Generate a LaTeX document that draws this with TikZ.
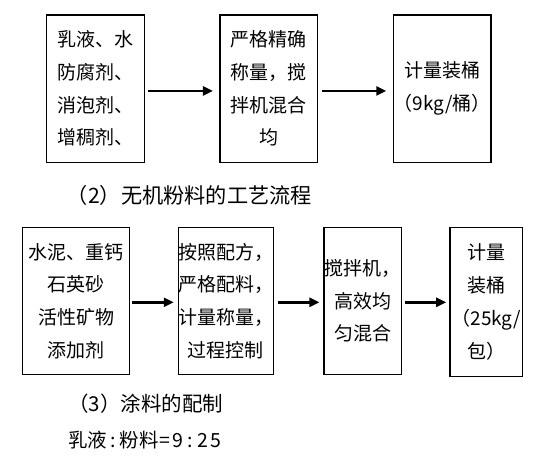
\documentclass[tikz,border=0pt]{standalone}
\usepackage{fontspec}
\setmainfont{Noto Sans CJK SC}
\usetikzlibrary{arrows.meta}
\newcommand\hwc[1]{\makebox[12.7pt]{#1}}
\begin{document}
\begin{tikzpicture}[x=1pt,y=-1pt,
  box/.style={draw=black,line width=1.1pt,inner sep=0pt,align=center,
    font=\fontsize{19}{32.7}\selectfont},
  arr/.style={line width=2.6pt,-{Triangle[length=10pt,width=9pt]}},
  lbl/.style={anchor=west,inner sep=0pt,font=\fontsize{20.5}{24}\selectfont}]
\fill[white] (0,0) rectangle (540,456);
\useasboundingbox (0,0) rectangle (540,456);
% row 1
\node[box,minimum width=97.6pt,minimum height=147.3pt] (b1) at (95.5,88.65)
  {乳液、水\\防腐剂、\\消泡剂、\\增稠剂、};
\node[box,minimum width=97.3pt,minimum height=147.3pt] (b2) at (268.65,88.65)
  {严格精确\\称量，搅\\拌机混合\\均};
\node[box,minimum width=97.7pt,minimum height=147.3pt] (b3) at (442.15,88.65)
  {计量装桶\\（9kg/桶）};
\coordinate (p1) at ([shift={(3pt,-2.3pt)}]b1.east);
\coordinate (p2) at ([shift={(4pt,-2.3pt)}]b2.east);
\draw[arr] (p1) -- ([xshift=-6.5pt]p1 -| b2.west);
\draw[arr] (p2) -- ([xshift=-6.5pt]p2 -| b3.west);
\node[lbl,font=\fontsize{21.2}{24}\selectfont] (t2) at (66.7,195) {（2）无机粉料的工艺流程};
% row 2
\node[box,minimum width=106.5pt,minimum height=146.6pt] (ba) at (76.1,301)
  {水泥、重钙\\石英砂\\活性矿物\\添加剂};
\node[box,minimum width=95pt,minimum height=146.6pt] (bb) at (225.8,301)
  {按照配方，\\严格配料，\\计量称量，\\过程控制};
\node[box,minimum width=77.7pt,minimum height=146.6pt] (bc) at (362.85,301)
  {搅拌机，\\高效均\\匀混合};
\node[box,minimum width=72.7pt,minimum height=149.4pt] (bd) at (486.35,302)
  {计量\\装桶\\（25kg/\\包）};
\coordinate (q1) at ([shift={(2pt,-1.3pt)}]ba.east);
\coordinate (q2) at ([shift={(4pt,-1.3pt)}]bb.east);
\coordinate (q3) at ([shift={(2.6pt,-1.3pt)}]bc.east);
\draw[arr] (q1) -- ([xshift=-4pt]q1 -| bb.west);
\draw[arr] (q2) -- ([xshift=-4pt]q2 -| bc.west);
\draw[arr] (q3) -- ([xshift=-3.3pt]q3 -| bd.west);
\node[lbl] (t3) at (68,403.3) {（3）涂料的配制};
\node[lbl,font=\fontsize{19.5}{23}\selectfont] (t4) at (68,440)
  {乳液\hwc{:}粉料\hwc{=}\hwc{9}\hwc{:}\hwc{2}\hwc{5}};
\end{tikzpicture}
\end{document}
